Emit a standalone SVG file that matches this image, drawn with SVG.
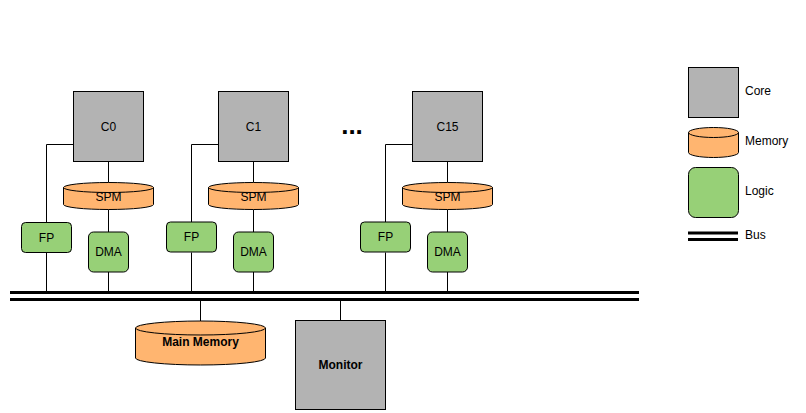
<svg xmlns="http://www.w3.org/2000/svg" width="806" height="413" viewBox="0 0 806 413">
  <style>
    .core { fill: #b3b3b3; stroke: #000; stroke-width: 1; }
    .mem { fill: #ffb570; stroke: #000; stroke-width: 1; }
    .logic { fill: #97d077; stroke: #000; stroke-width: 1; }
    .wire { fill: none; stroke: #000; stroke-width: 1; }
    .bus { fill: none; stroke: #000; stroke-width: 3; }
    text { font-family: "Liberation Sans", Arial, sans-serif; font-size: 12px; fill: #000; }
    .c { text-anchor: middle; dominant-baseline: central; }
    .b { font-weight: bold; }
  </style>
  <defs>
    <!-- SPM cylinder: 90 x 27, top ellipse ry=5 -->
    <g id="spm">
      <path class="mem" d="M0,5 a45,5 0 0 1 90,0 v17 a45,5 0 0 1 -90,0 z"/>
      <path class="wire" d="M0,5 a45,5 0 0 0 90,0"/>
    </g>
  </defs>

  <rect width="806" height="413" fill="#fff"/>

  <!-- connectors -->
  <g id="connectors">
    <!-- core 0 -->
    <path class="wire" d="M73.5,144.5 H46.5 V222.5 M46.5,252.5 V292 M108.5,161.5 V182.5 M108.5,209.5 V232 M108.5,272 V292"/>
    <!-- core 1 -->
    <path class="wire" d="M218.5,144.5 H191.5 V222.5 M191.5,252.5 V292 M253.5,161.5 V182.5 M253.5,209.5 V232 M253.5,272 V292"/>
    <!-- core 15 -->
    <path class="wire" d="M412.5,144.5 H385.5 V222.5 M385.5,252.5 V292 M447.5,161.5 V182.5 M447.5,209.5 V232 M447.5,272 V292"/>
    <!-- main memory and monitor -->
    <path class="wire" d="M200.5,300 V321 M340.5,300 V320.5"/>
    <!-- system bus -->
    <path class="bus" d="M10,292.5 H639 M10,299.5 H639"/>
  </g>

  <!-- core 0 -->
  <g id="core0">
    <rect class="core" x="73.5" y="91.5" width="70" height="70"/>
    <text class="c" x="108.5" y="126.5">C0</text>
  </g>
  <g id="spm0">
    <use href="#spm" x="63.5" y="182.5"/>
    <text class="c" x="108.5" y="196.5">SPM</text>
  </g>
  <g id="fp0">
    <rect class="logic" x="21.5" y="222.5" width="50" height="30" rx="4"/>
    <text class="c" x="46.5" y="237.5">FP</text>
  </g>
  <g id="dma0">
    <rect class="logic" x="88.5" y="232" width="40" height="40" rx="5"/>
    <text class="c" x="108.5" y="252">DMA</text>
  </g>

  <!-- core 1 -->
  <g id="core1">
    <rect class="core" x="218.5" y="91.5" width="70" height="70"/>
    <text class="c" x="253.5" y="126.5">C1</text>
  </g>
  <g id="spm1">
    <use href="#spm" x="208.5" y="182.5"/>
    <text class="c" x="253.5" y="196.5">SPM</text>
  </g>
  <g id="fp1">
    <rect class="logic" x="166.5" y="222" width="50" height="30" rx="4"/>
    <text class="c" x="191.5" y="237">FP</text>
  </g>
  <g id="dma1">
    <rect class="logic" x="233.5" y="232" width="40" height="40" rx="5"/>
    <text class="c" x="253.5" y="252">DMA</text>
  </g>

  <!-- ellipsis between cores -->
  <g id="ellipsis">
    <text class="c b" x="352" y="125" style="font-size:26px">...</text>
  </g>

  <!-- core 15 -->
  <g id="core15">
    <rect class="core" x="412.5" y="91.5" width="70" height="70"/>
    <text class="c" x="447.5" y="126.5">C15</text>
  </g>
  <g id="spm15">
    <use href="#spm" x="402.5" y="182.5"/>
    <text class="c" x="447.5" y="196.5">SPM</text>
  </g>
  <g id="fp15">
    <rect class="logic" x="360.5" y="222" width="50" height="30" rx="4"/>
    <text class="c" x="385.5" y="237">FP</text>
  </g>
  <g id="dma15">
    <rect class="logic" x="427.5" y="232" width="40" height="40" rx="5"/>
    <text class="c" x="447.5" y="252">DMA</text>
  </g>

  <!-- main memory -->
  <g id="main-memory">
    <path class="mem" d="M135.5,328 a65,7 0 0 1 130,0 v30 a65,7 0 0 1 -130,0 z"/>
    <path class="wire" d="M135.5,328 a65,7 0 0 0 130,0"/>
    <text class="c b" x="200.5" y="342">Main Memory</text>
  </g>

  <!-- monitor -->
  <g id="monitor">
    <rect class="core" x="295.5" y="320.5" width="90" height="89"/>
    <text class="c b" x="340.5" y="365">Monitor</text>
  </g>

  <!-- legend -->
  <g id="legend-core">
    <rect class="core" x="688.5" y="67.5" width="50" height="50"/>
    <text x="745" y="95">Core</text>
  </g>
  <g id="legend-memory">
    <path class="mem" d="M688.5,132.5 a25,5 0 0 1 50,0 v20 a25,5 0 0 1 -50,0 z"/>
    <path class="wire" d="M688.5,132.5 a25,5 0 0 0 50,0"/>
    <text x="745" y="145">Memory</text>
  </g>
  <g id="legend-logic">
    <rect class="logic" x="688.5" y="167.5" width="50" height="50" rx="7"/>
    <text x="745" y="195">Logic</text>
  </g>
  <g id="legend-bus">
    <path class="bus" d="M688,233 H738 M688,239.5 H738"/>
    <text x="745" y="239">Bus</text>
  </g>
</svg>
